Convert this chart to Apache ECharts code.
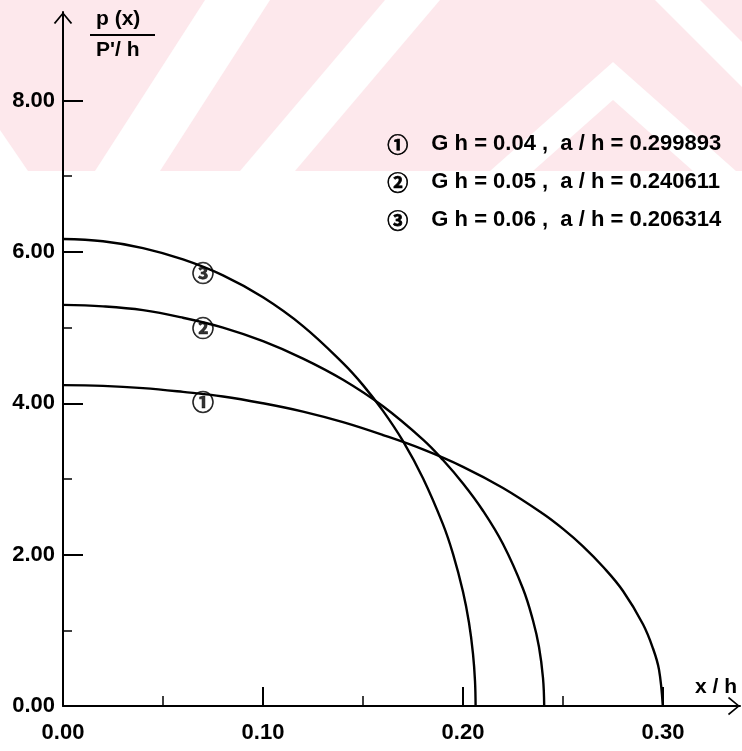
<!DOCTYPE html>
<html>
<head>
<meta charset="utf-8">
<script src="https://cdn.jsdelivr.net/npm/echarts@6/dist/echarts.min.js"></script>
<style>
  html, body { margin: 0; padding: 0; background: #ffffff; }
  #chart { width: 742px; height: 751px; }
</style>
</head>
<body>
<div id="chart"></div>
<script>
// Contact pressure p(x)/(P/h) against x/h for three values of Gh.
// Curve 1: Gh = 0.04
const curve1X = [0, 0.02, 0.04, 0.06, 0.08, 0.10, 0.12, 0.14, 0.16, 0.18, 0.20, 0.22, 0.24, 0.25, 0.26, 0.27, 0.28, 0.29, 0.295, 0.298, 0.2999];
const curve1P = [4.24, 4.23, 4.20, 4.15, 4.09, 4.00, 3.89, 3.75, 3.58, 3.39, 3.16, 2.88, 2.54, 2.34, 2.11, 1.84, 1.52, 1.08, 0.76, 0.48, 0];
// Curve 2: Gh = 0.05
const curve2X = [0, 0.02, 0.04, 0.06, 0.08, 0.10, 0.12, 0.14, 0.16, 0.18, 0.19, 0.20, 0.21, 0.22, 0.23, 0.235, 0.238, 0.240, 0.2406];
const curve2P = [5.30, 5.28, 5.23, 5.13, 5.00, 4.82, 4.59, 4.31, 3.96, 3.52, 3.25, 2.94, 2.58, 2.14, 1.55, 1.13, 0.78, 0.37, 0];
// Curve 3: Gh = 0.06
const curve3X = [0, 0.02, 0.04, 0.06, 0.08, 0.10, 0.12, 0.14, 0.15, 0.16, 0.17, 0.18, 0.19, 0.195, 0.20, 0.203, 0.205, 0.206, 0.2063];
const curve3P = [6.17, 6.14, 6.05, 5.90, 5.69, 5.40, 5.02, 4.53, 4.24, 3.90, 3.50, 3.01, 2.40, 2.01, 1.51, 1.10, 0.69, 0.33, 0];

// Circled tags written under each curve
const curveTags = ['①', '②', '③'];
const tagX = [0.07, 0.07, 0.07];
const tagP = [4.02, 5.00, 5.73];

// Legend lines
const legendTags = ['①', '②', '③'];
const legendGh = ['0.04', '0.05', '0.06'];
const legendAh = ['0.299893', '0.240611', '0.206314'];

// Axis ticks
const xLabelValues = [0, 0.1, 0.2, 0.3];
const xMajorTicks = [0.1, 0.2, 0.3];
const xMinorTicks = [0.05, 0.15, 0.25];
const yLabelValues = [0, 2, 4, 6, 8];
const yMajorTicks = [2, 4, 6, 8];
const yMinorTicks = [1, 3, 5, 7];

const xMax = 0.3385;
const yMax = 9.17;

const pair = (xs, ys) => xs.map((x, i) => [x, ys[i]]);

// open arrow head, pointing up in its own frame
const openArrow = 'path://M0,12 L10,0 L20,12 L18.4,13 L10,2.6 L1.6,13 Z';

const tickFont = {
  fontFamily: 'Liberation Sans',
  fontWeight: 'bold',
  fontSize: 22,
  color: '#000'
};

const chart = echarts.init(document.getElementById('chart'), null, { renderer: 'canvas' });

const curveStyle = { color: '#000', width: 2.4 };

const legendGraphics = legendTags.map((t, i) => ({
  type: 'text',
  left: 387,
  top: 133 + i * 38,
  z: 10,
  style: {
    text: '{c|' + t + '}{t|G h = ' + legendGh[i] + ' ,  a / h = ' + legendAh[i] + '}',
    rich: {
      c: { fontFamily: 'Noto Sans CJK SC', fontWeight: 'bold', fontSize: 21, fill: '#000', width: 44, stroke: '#000', lineWidth: 0.7 },
      t: { fontFamily: 'Liberation Sans', fontWeight: 'bold', fontSize: 22, fill: '#000' }
    }
  }
}));

// faint background band along the top edge
const bandPink = '#fde8ec';
const bandGraphics = [
  { type: 'rect', shape: { x: 0, y: 0, width: 742, height: 171 }, style: { fill: bandPink }, z: -10, silent: true },
  { type: 'polygon', shape: { points: [[0, 130], [0, 171], [28, 171]] }, style: { fill: '#fff' }, z: -9, silent: true },
  { type: 'polygon', shape: { points: [[95, 171], [160, 171], [270, 0], [205, 0]] }, style: { fill: '#fff' }, z: -9, silent: true },
  { type: 'polygon', shape: { points: [[240, 171], [295, 171], [440, 0], [385, 0]] }, style: { fill: '#fff' }, z: -9, silent: true },
  { type: 'polygon', shape: { points: [[490, 171], [613, 62], [736, 171], [693, 171], [613, 100], [533, 171]] }, style: { fill: '#fff' }, z: -9, silent: true },
  { type: 'polygon', shape: { points: [[655, 0], [700, 0], [742, 42], [742, 87]] }, style: { fill: '#fff' }, z: -9, silent: true }
];

const titleFont = { fontFamily: 'Liberation Sans', fontWeight: 'bold', fontSize: 21, fill: '#000' };

const option = {
  animation: false,
  backgroundColor: '#fff',
  grid: { left: 63, right: 2, top: 12, bottom: 45, containLabel: false },
  xAxis: [
    {
      type: 'value', min: 0, max: xMax, position: 'bottom',
      axisLine: {
        show: true, onZero: false,
        symbol: ['none', openArrow], symbolSize: [20, 12], symbolOffset: [0, -6],
        lineStyle: { color: '#000', width: 2 }
      },
      axisTick: { show: true, inside: true, length: 19, customValues: xMajorTicks, lineStyle: { color: '#000', width: 2 } },
      axisLabel: Object.assign({ customValues: xLabelValues, margin: 16, formatter: v => v.toFixed(2) }, tickFont),
      splitLine: { show: false }
    },
    {
      type: 'value', min: 0, max: xMax, position: 'bottom',
      axisLine: { show: false },
      axisTick: { show: true, inside: true, length: 10, customValues: xMinorTicks, lineStyle: { color: '#000', width: 1.5 } },
      axisLabel: { show: false },
      splitLine: { show: false }
    }
  ],
  yAxis: [
    {
      type: 'value', min: 0, max: yMax, position: 'left',
      axisLine: {
        show: true, onZero: false,
        symbol: ['none', openArrow], symbolSize: [20, 12], symbolOffset: [0, -6],
        lineStyle: { color: '#000', width: 2 }
      },
      axisTick: { show: true, inside: true, length: 20, customValues: yMajorTicks, lineStyle: { color: '#000', width: 2 } },
      axisLabel: Object.assign({ customValues: yLabelValues, margin: 8, formatter: v => v.toFixed(2) }, tickFont),
      splitLine: { show: false }
    },
    {
      type: 'value', min: 0, max: yMax, position: 'left',
      axisLine: { show: false },
      axisTick: { show: true, inside: true, length: 9, customValues: yMinorTicks, lineStyle: { color: '#000', width: 1.5 } },
      axisLabel: { show: false },
      splitLine: { show: false }
    }
  ],
  graphic: bandGraphics.concat([
    { type: 'text', left: 96, top: 9, z: 10, style: Object.assign({ text: 'p (x)' }, titleFont) },
    { type: 'line', shape: { x1: 90, y1: 35, x2: 155, y2: 35 }, style: { stroke: '#000', lineWidth: 2 }, z: 10 },
    { type: 'text', left: 96, top: 40, z: 10, style: Object.assign({ text: "P'/ h" }, titleFont) },
    { type: 'text', left: 695, top: 677, z: 10, style: Object.assign({ text: 'x / h' }, titleFont) }
  ]).concat(legendGraphics),
  series: [
    { name: 'Gh = 0.04', type: 'line', data: pair(curve1X, curve1P), showSymbol: false, smooth: 0.4, lineStyle: curveStyle, z: 3 },
    { name: 'Gh = 0.05', type: 'line', data: pair(curve2X, curve2P), showSymbol: false, smooth: 0.4, lineStyle: curveStyle, z: 3 },
    { name: 'Gh = 0.06', type: 'line', data: pair(curve3X, curve3P), showSymbol: false, smooth: 0.4, lineStyle: curveStyle, z: 3 },
    {
      name: 'tags', type: 'scatter', symbolSize: 0, z: 4,
      data: curveTags.map((t, i) => ({ name: t, value: [tagX[i], tagP[i]] })),
      label: {
        show: true, position: 'inside', formatter: p => p.name,
        fontFamily: 'Noto Sans CJK SC', fontWeight: 'bold', fontSize: 22, color: '#000',
        textBorderColor: '#000', textBorderWidth: 0.7
      }
    }
  ]
};

chart.setOption(option);
</script>
</body>
</html>
